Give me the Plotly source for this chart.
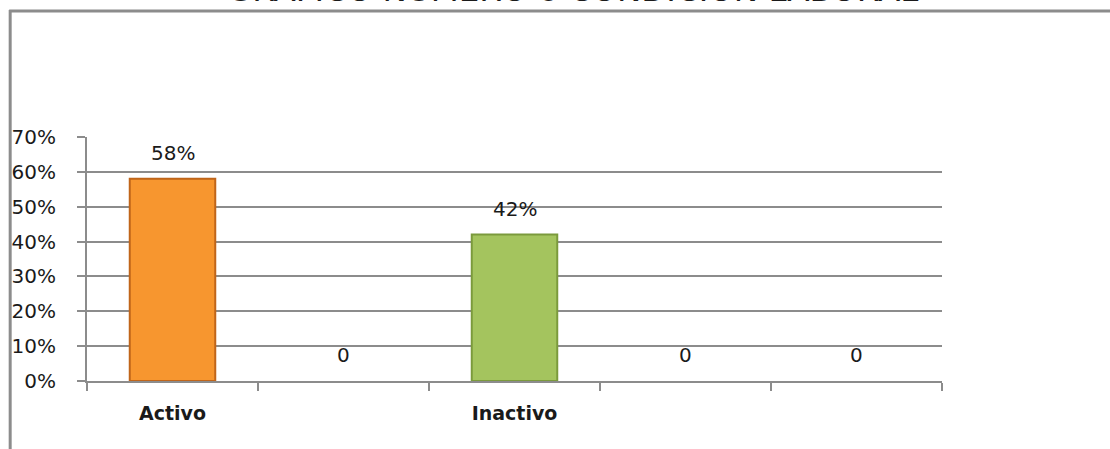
import plotly.graph_objects as go

# ---- data ----
categories = ["Activo", " ", "Inactivo", "  ", "   "]
values = [0.58, 0, 0.42, 0, 0]
bar_colors = ["#F7962F", "#F7962F", "#A4C45E", "#A4C45E", "#A4C45E"]
edge_colors = ["#C0651A", "#C0651A", "#7B9A3C", "#7B9A3C", "#7B9A3C"]
y_ticks = [0, 0.1, 0.2, 0.3, 0.4, 0.5, 0.6, 0.7]
title_text = "GRÁFICO NÚMERO 6 CONDICIÓN LABORAL"

labels = [f"{v:.0%}" if v else "0" for v in values]
edge_widths = [2 if v else 0 for v in values]

# ---- layout geometry (pixels) ----
W, H = 1110, 449
L, R, T, B = 85, 942, 137, 381  # plot area edges
pw, ph = R - L, B - T


def px_x(p):
    return (p - L) / pw


def px_y(p):
    return (B - p) / ph


FONT = "DejaVu Sans"
GRAY = "#8c8c8c"

fig = go.Figure()
fig.add_trace(go.Bar(
    x=categories,
    y=values,
    marker=dict(color=bar_colors, line=dict(color=edge_colors, width=edge_widths)),
    hoverinfo="skip",
))

annotations = []
for i, (v, t) in enumerate(zip(values, labels)):
    annotations.append(dict(
        x=i, y=v, xref="x", yref="y", text=t, showarrow=False,
        yshift=26, yanchor="middle",
        font=dict(family=FONT, size=20, color="#1a1a1a"),
    ))

annotations.append(dict(
    x=px_x(572), y=px_y(-11), xref="paper", yref="paper", text=title_text,
    showarrow=False, xanchor="center", yanchor="middle",
    font=dict(family=FONT, size=32.5, color="#1a1a1a"),
))

shapes = [
    dict(type="line", xref="paper", yref="paper",
         x0=px_x(7), x1=px_x(1115), y0=px_y(11), y1=px_y(11),
         line=dict(color=GRAY, width=3)),
    dict(type="line", xref="paper", yref="paper",
         x0=px_x(8), x1=px_x(8), y0=px_y(10), y1=px_y(455),
         line=dict(color=GRAY, width=3)),
]

fig.update_layout(
    width=W, height=H,
    margin=dict(l=L, r=W - R, t=T, b=H - B, pad=0),
    paper_bgcolor="white", plot_bgcolor="white",
    bargap=0.5,
    showlegend=False,
    annotations=annotations,
    shapes=shapes,
    xaxis=dict(
        type="category",
        showline=True, linecolor=GRAY, linewidth=2,
        ticks="outside", tickson="boundaries", ticklen=8,
        tickcolor=GRAY, tickwidth=2,
        showgrid=False,
        tickfont=dict(family=FONT, size=19, color="#1a1a1a", weight="bold"),
        ticklabelstandoff=14,
    ),
    yaxis=dict(
        range=[0, 0.7],
        tickvals=y_ticks, tickformat=".0%",
        showgrid=True, gridcolor=GRAY, gridwidth=2,
        showline=True, linecolor=GRAY, linewidth=2,
        ticks="outside", ticklen=8, tickcolor=GRAY, tickwidth=2,
        zeroline=False,
        tickfont=dict(family=FONT, size=20, color="#1a1a1a"),
        ticklabelstandoff=17,
    ),
)

fig.write_html(
    "out.html",
    config={"displayModeBar": False},
    post_script="document.body.style.margin='0';document.body.style.overflow='hidden';",
)
